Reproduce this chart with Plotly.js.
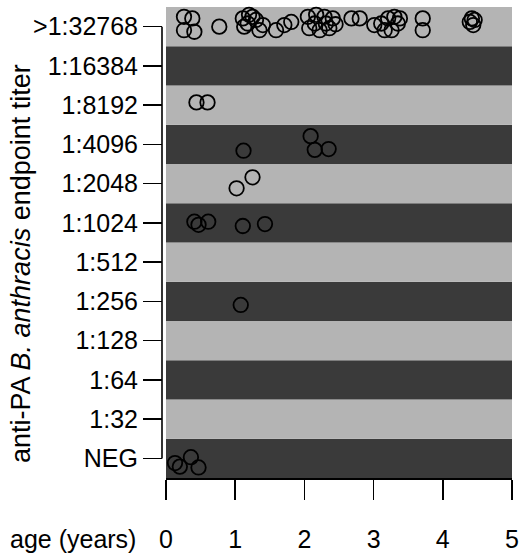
<!DOCTYPE html>
<html>
<head>
<meta charset="utf-8">
<script src="https://cdn.plot.ly/plotly-3.0.1.min.js"></script>
<style>html,body{margin:0;padding:0;background:#fff;}#chart{width:524px;height:554px;}</style>
</head>
<body>
<div id="chart"></div>
<script>
// Titer levels (bottom to top)
const titerLevels = ['NEG','1:32','1:64','1:128','1:256','1:512','1:1024','1:2048','1:4096','1:8192','1:16384','>1:32768'];
const xTicks = [0, 1, 2, 3, 4, 5];

// Observations: age (years), titer level, vertical jitter (fraction of a band)
const ageTop = [0.26,0.38,0.26,0.41,0.77,1.11,1.20,1.18,1.30,1.13,1.35,1.25,1.40,1.59,1.71,1.81,2.05,2.17,2.29,2.41,2.07,2.22,2.36,2.15,2.31,2.45,2.68,2.80,3.01,3.11,3.21,3.30,3.35,3.26,3.16,3.38,3.71,3.71,4.39,4.44,4.42,4.46];
const jitterTop = [0.25,0.21,-0.09,-0.13,0.00,0.21,0.30,0.08,0.17,0.00,-0.09,0.25,0.04,-0.09,0.04,0.12,0.25,0.30,0.25,0.21,-0.04,-0.09,-0.04,0.08,0.08,0.06,0.21,0.21,0.04,0.08,0.21,0.25,0.08,-0.09,-0.09,0.21,0.21,-0.09,0.12,0.04,0.21,0.17];

const ageOther = [0.44,0.60, 1.12,2.09,2.15,2.35, 1.25,1.02, 0.41,0.47,0.61,1.11,1.43, 1.08, 0.13,0.20,0.36,0.47];
const titerOther = ['1:8192','1:8192','1:4096','1:4096','1:4096','1:4096','1:2048','1:2048','1:1024','1:1024','1:1024','1:1024','1:1024','1:256','NEG','NEG','NEG','NEG'];
const jitterOther = [0.07,0.07,-0.16,0.21,-0.14,-0.12,0.16,-0.12,0.03,-0.05,0.03,-0.08,-0.03,-0.09,-0.12,-0.21,0.03,-0.23];

const ages = ageTop.concat(ageOther);
const titers = ageTop.map(() => '>1:32768').concat(titerOther);
const jitters = jitterTop.concat(jitterOther);
const yVals = titers.map((t, i) => titerLevels.indexOf(t) + jitters[i]);

const shapes = titerLevels.map((lvl, i) => ({
  type: 'rect', xref: 'x domain', yref: 'y', x0: 0, x1: 1, y0: i - 0.5, y1: i + 0.5,
  fillcolor: i % 2 === 0 ? '#3a3a3a' : '#b4b4b4', line: {width: 0}, layer: 'below'
}));
shapes.push({type: 'line', xref: 'paper', yref: 'y', x0: 0, x1: 0, y0: 0, y1: titerLevels.length - 1,
  line: {color: '#000', width: 1.6}});

const trace = {
  x: ages, y: yVals, type: 'scatter', mode: 'markers', cliponaxis: false,
  marker: {symbol: 'circle-open', size: 14.5, color: '#000', line: {width: 1.8, color: '#000'}},
  hoverinfo: 'skip'
};

const layout = {
  width: 524, height: 554,
  margin: {l: 162, r: 12, t: 7, b: 76},
  paper_bgcolor: '#fff', plot_bgcolor: '#fff',
  font: {family: 'Liberation Sans, Arial, sans-serif', size: 25, color: '#000'},
  showlegend: false,
  xaxis: {
    domain: [4/350, 1], range: [0, 5], tickvals: xTicks, ticktext: xTicks.map(String),
    showline: true, linecolor: '#000', linewidth: 1.6,
    ticks: 'outside', ticklen: 20, tickwidth: 1.6, tickcolor: '#000',
    ticklabelstandoff: 18,
    showgrid: false, zeroline: false, tickfont: {size: 25}
  },
  yaxis: {
    anchor: 'free', position: 0,
    range: [-0.5, titerLevels.length - 0.5],
    tickvals: titerLevels.map((_, i) => i), ticktext: titerLevels,
    ticks: 'outside', ticklen: 19, tickwidth: 1.6, tickcolor: '#000',
    showline: false, showgrid: false, zeroline: false, tickfont: {size: 25}
  },
  shapes: shapes,
  annotations: [
    {text: 'age (years)', xref: 'paper', yref: 'paper', x: (138 - 162) / 350, y: (478 - 539) / 471,
     xanchor: 'right', yanchor: 'middle', showarrow: false, font: {size: 25}},
    {text: 'anti-PA <i>B. anthracis</i> endpoint titer', xref: 'paper', yref: 'paper',
     x: (21 - 162) / 350, y: (478 - 264) / 471, xanchor: 'center', yanchor: 'middle',
     textangle: -90, showarrow: false, font: {size: 27}}
  ]
};

Plotly.newPlot('chart', [trace], layout, {displayModeBar: false, staticPlot: true});
</script>
</body>
</html>
